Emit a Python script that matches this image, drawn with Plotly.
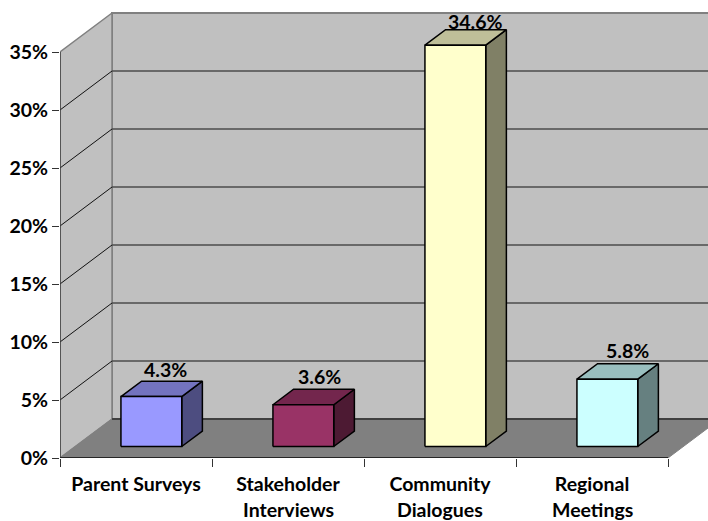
import plotly.graph_objects as go

categories = ["Parent Surveys", "Stakeholder", "Community", "Regional"]
second_lines = ["", "Interviews", "Dialogues", "Meetings"]
values = [4.3, 3.6, 34.6, 5.8]
value_labels = ["4.3%", "3.6%", "34.6%", "5.8%"]
y_ticks = [0, 5, 10, 15, 20, 25, 30, 35]
y_tick_labels = ["0%", "5%", "10%", "15%", "20%", "25%", "30%", "35%"]

front_colors = ["#9999FF", "#993366", "#FFFFCC", "#CCFFFF"]
top_colors = ["#7373BF", "#73264D", "#BFBF99", "#99BFBF"]
side_colors = ["#4D4D80", "#4D1A33", "#808066", "#668080"]

# Oblique projection: how far the back of the box is shifted, in axis units
DEPTH_X = 52 / 152
DEPTH_Y = 39 / 11.6
BAR_NEAR = 0.295
BAR_FAR = 0.692
BAR_WIDTH = 0.4
N = len(categories)
Y_MAX = y_ticks[-1]

FONT_BOLD = dict(family="Lato", size=19.5, color="#000000", weight="bold")


def project(x, y, depth):
    return x + depth * DEPTH_X, y + depth * DEPTH_Y


def polygon(points, fill, line_color, line_width):
    xs = [p[0] for p in points] + [points[0][0]]
    ys = [p[1] for p in points] + [points[0][1]]
    return go.Scatter(
        x=xs, y=ys, mode="lines", fill="toself", fillcolor=fill,
        line=dict(color=line_color, width=line_width),
        hoverinfo="skip", showlegend=False,
    )


def segment(a, b, color, width):
    return go.Scatter(
        x=[a[0], b[0]], y=[a[1], b[1]], mode="lines",
        line=dict(color=color, width=width),
        hoverinfo="skip", showlegend=False,
    )


fig = go.Figure()

# Walls and floor of the box
fig.add_trace(polygon(
    [project(0, 0, 1), project(N, 0, 1), project(N, Y_MAX, 1), project(0, Y_MAX, 1)],
    "#C0C0C0", "#808080", 2))
fig.add_trace(polygon(
    [project(0, 0, 0), project(0, 0, 1), project(0, Y_MAX, 1), project(0, Y_MAX, 0)],
    "#C0C0C0", "#808080", 1.5))
fig.add_trace(polygon(
    [project(0, 0, 0), project(N, 0, 0), project(N, 0, 1), project(0, 0, 1)],
    "#808080", "#808080", 1))

# Gridlines running along the side wall and the back wall
for v in y_ticks[1:-1]:
    fig.add_trace(segment(project(0, v, 0), project(0, v, 1), "#111111", 1))
    fig.add_trace(segment(project(0, v, 1), project(N, v, 1), "#4D4D4D", 1.5))
fig.add_trace(segment(project(0, 0, 1), project(N, 0, 1), "#404040", 2))

# Axis lines in front
fig.add_trace(segment(project(0, 0, 0), project(0, Y_MAX, 0), "#404040", 1.5))
fig.add_trace(segment(project(0, 0, 0), project(N, 0, 0), "#262626", 2))

# One box per category: side, top, then front face
for i, v in enumerate(values):
    left = i + 0.5 - BAR_WIDTH / 2
    right = left + BAR_WIDTH
    fig.add_trace(polygon(
        [project(right, 0, BAR_NEAR), project(right, 0, BAR_FAR),
         project(right, v, BAR_FAR), project(right, v, BAR_NEAR)],
        side_colors[i], "#000000", 1.5))
    fig.add_trace(polygon(
        [project(left, v, BAR_NEAR), project(right, v, BAR_NEAR),
         project(right, v, BAR_FAR), project(left, v, BAR_FAR)],
        top_colors[i], "#000000", 1.5))
    fig.add_trace(polygon(
        [project(left, 0, BAR_NEAR), project(right, 0, BAR_NEAR),
         project(right, v, BAR_NEAR), project(left, v, BAR_NEAR)],
        front_colors[i], "#000000", 1.5))

label_xshift = [14, 16, 20, 20]
label_yshift = [27, 28, 24, 29]
for i, v in enumerate(values):
    x, y = project(i + 0.5, v, BAR_NEAR)
    fig.add_annotation(
        x=x, y=y, text=value_labels[i], showarrow=False, font=FONT_BOLD,
        xshift=label_xshift[i], yshift=label_yshift[i],
    )

# Second row of the category labels
for i, text in enumerate(second_lines):
    if text:
        fig.add_annotation(
            x=i + 0.5, y=0, yref="y", text=text, showarrow=False, font=FONT_BOLD,
            yshift=-51, yanchor="middle",
        )

fig.update_layout(
    width=708, height=521,
    margin=dict(l=60, r=0, t=0, b=63),
    paper_bgcolor="#FFFFFF", plot_bgcolor="#FFFFFF",
    showlegend=False,
    xaxis=dict(
        range=[0, 648 / 152], showgrid=False, zeroline=False, showline=False,
        tickvals=[i + 0.5 for i in range(N)], ticktext=categories, ticks="",
        tickfont=FONT_BOLD, ticklabelstandoff=12,
        minor=dict(tickvals=list(range(N + 1)), ticks="outside", ticklen=8,
                   tickcolor="#333333", tickwidth=1),
    ),
    yaxis=dict(
        range=[0, 458 / 11.6], showgrid=False, zeroline=False, showline=False,
        tickvals=y_ticks, ticktext=y_tick_labels, ticks="outside", ticklen=7,
        tickcolor="#333333", tickwidth=1, tickfont=FONT_BOLD,
    ),
)

fig.write_html("out.html", config=dict(displayModeBar=False))
